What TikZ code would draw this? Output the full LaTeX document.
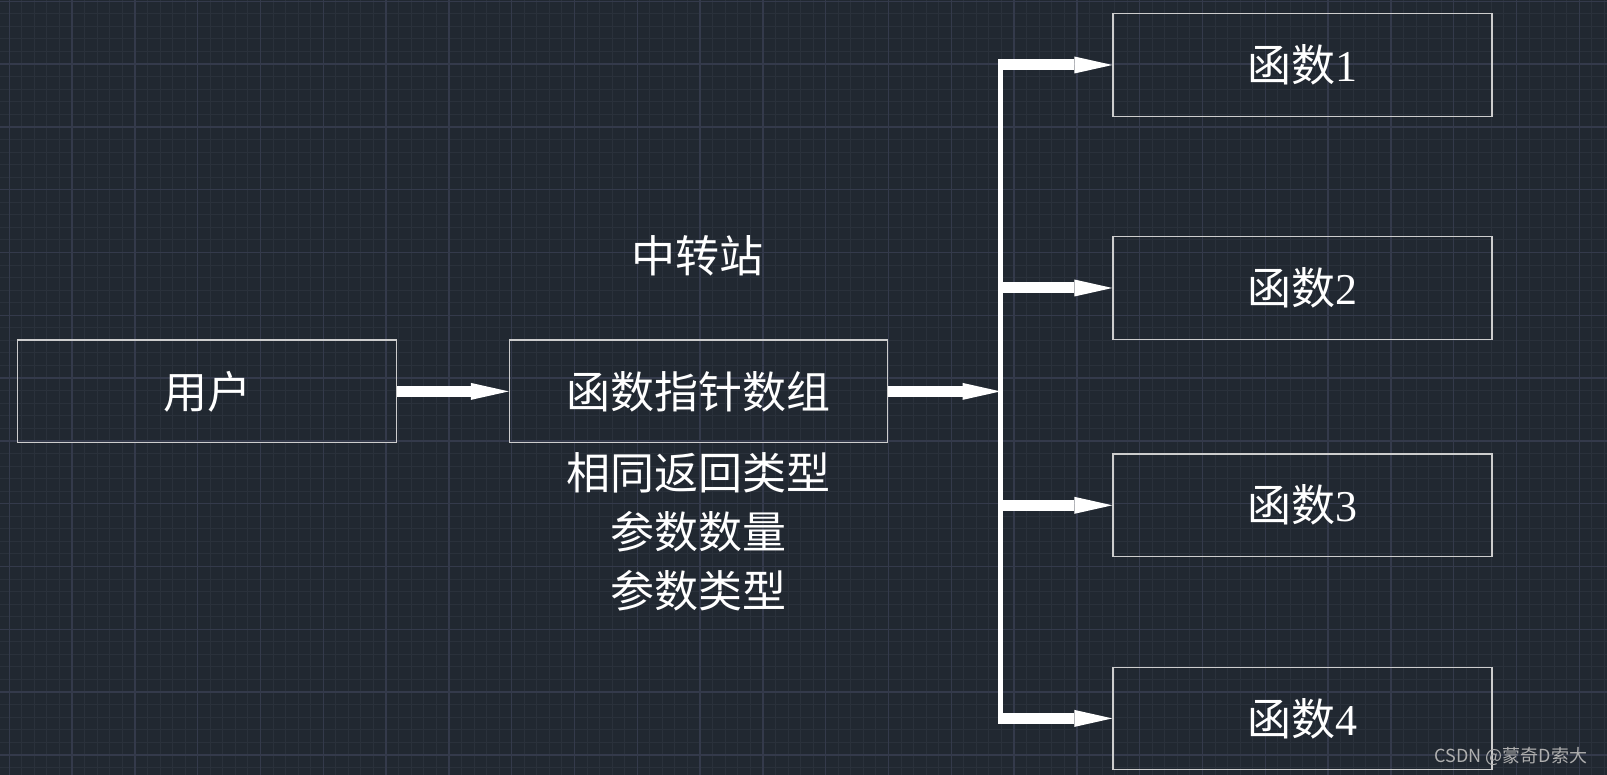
\documentclass[tikz,border=0pt]{standalone}
\usepackage{fontspec}
\setmainfont{Liberation Serif}
\newfontfamily\cjk{Noto Sans CJK SC}
\usetikzlibrary{arrows.meta}
\definecolor{bgc}{RGB}{33,40,49}
\definecolor{minorc}{RGB}{42,49,59}
\definecolor{majorc}{RGB}{52,58,75}
\definecolor{boxc}{RGB}{205,205,205}
\definecolor{wmc}{RGB}{175,175,175}
\begin{document}
\begin{tikzpicture}[x=1pt,y=-1pt,
  minorline/.style={draw=minorc,line width=1pt},
  majorline/.style={draw=majorc,line width=1.4pt},
  box/.style={draw=boxc,line width=1.3pt,inner sep=0pt,minimum height=102.5pt,
     text=white,font=\cjk\fontsize{44}{53}\selectfont},
  lbl/.style={text=white,inner sep=0pt,font=\cjk\fontsize{44}{59}\selectfont,align=center},
  bigarrow/.style={draw=white,line width=11pt,-{Triangle[length=38pt,width=17pt,line width=0pt]}},
  bus/.style={draw=white,line width=5.5pt}
]
\fill[bgc] (0,0) rectangle (1607,775);
\useasboundingbox (0,0) rectangle (1607,775);
\begin{scope}
\clip (0,0) rectangle (1607,775);
\foreach \i in {0,...,128} \draw[minorline] ({-3.26+12.56*\i},0) -- ({-3.26+12.56*\i},775);
\foreach \i in {0,...,62} \draw[minorline] (0,{1.3+12.56*\i}) -- (1607,{1.3+12.56*\i});
\foreach \i in {0,...,25} \draw[majorline] ({9.3+62.8*\i},0) -- ({9.3+62.8*\i},775);
\foreach \i in {0,...,12} \draw[majorline] (0,{1.3+62.8*\i}) -- (1607,{1.3+62.8*\i});
\end{scope}

\node[box,minimum width=379pt] (user) at (207,391.4) {用户};
\node[box,minimum width=378pt] (fp) at (698.5,391.4) {函数指针数组};
\node[box,minimum width=379pt] (f1) at (1302.5,65) {函数{\rmfamily 1}};
\node[box,minimum width=379pt] (f2) at (1302.5,288) {函数{\rmfamily 2}};
\node[box,minimum width=379pt] (f3) at (1302.5,505.3) {函数{\rmfamily 3}};
\node[box,minimum width=379pt] (f4) at (1302.5,718.4) {函数{\rmfamily 4}};

\node[lbl] (title) at (697,256) {中转站};
\node[lbl] (notes) at (698,532) {相同返回类型\\参数数量\\参数类型};

\coordinate (j) at (1000.5,391.4);
\coordinate (b1) at (1000.5,65);
\coordinate (b2) at (1000.5,288);
\coordinate (b3) at (1000.5,505.3);
\coordinate (b4) at (1000.5,718.4);
\coordinate (bt) at (1000.5,59.5);
\coordinate (bb) at (1000.5,724);

\draw[bus] (bt) -- (bb);
\draw[bigarrow] (user.east) -- (fp.west);
\draw[bigarrow] (fp.east) -- (j);
\draw[bigarrow] (b1) -- (f1.west);
\draw[bigarrow] (b2) -- (f2.west);
\draw[bigarrow] (b3) -- (f3.west);
\draw[bigarrow] (b4) -- (f4.west);

\node[text=wmc,inner sep=0pt,font=\cjk\fontsize{18}{21}\selectfont] (wm) at (1511,756) {CSDN @蒙奇D索大};
\end{tikzpicture}
\end{document}
